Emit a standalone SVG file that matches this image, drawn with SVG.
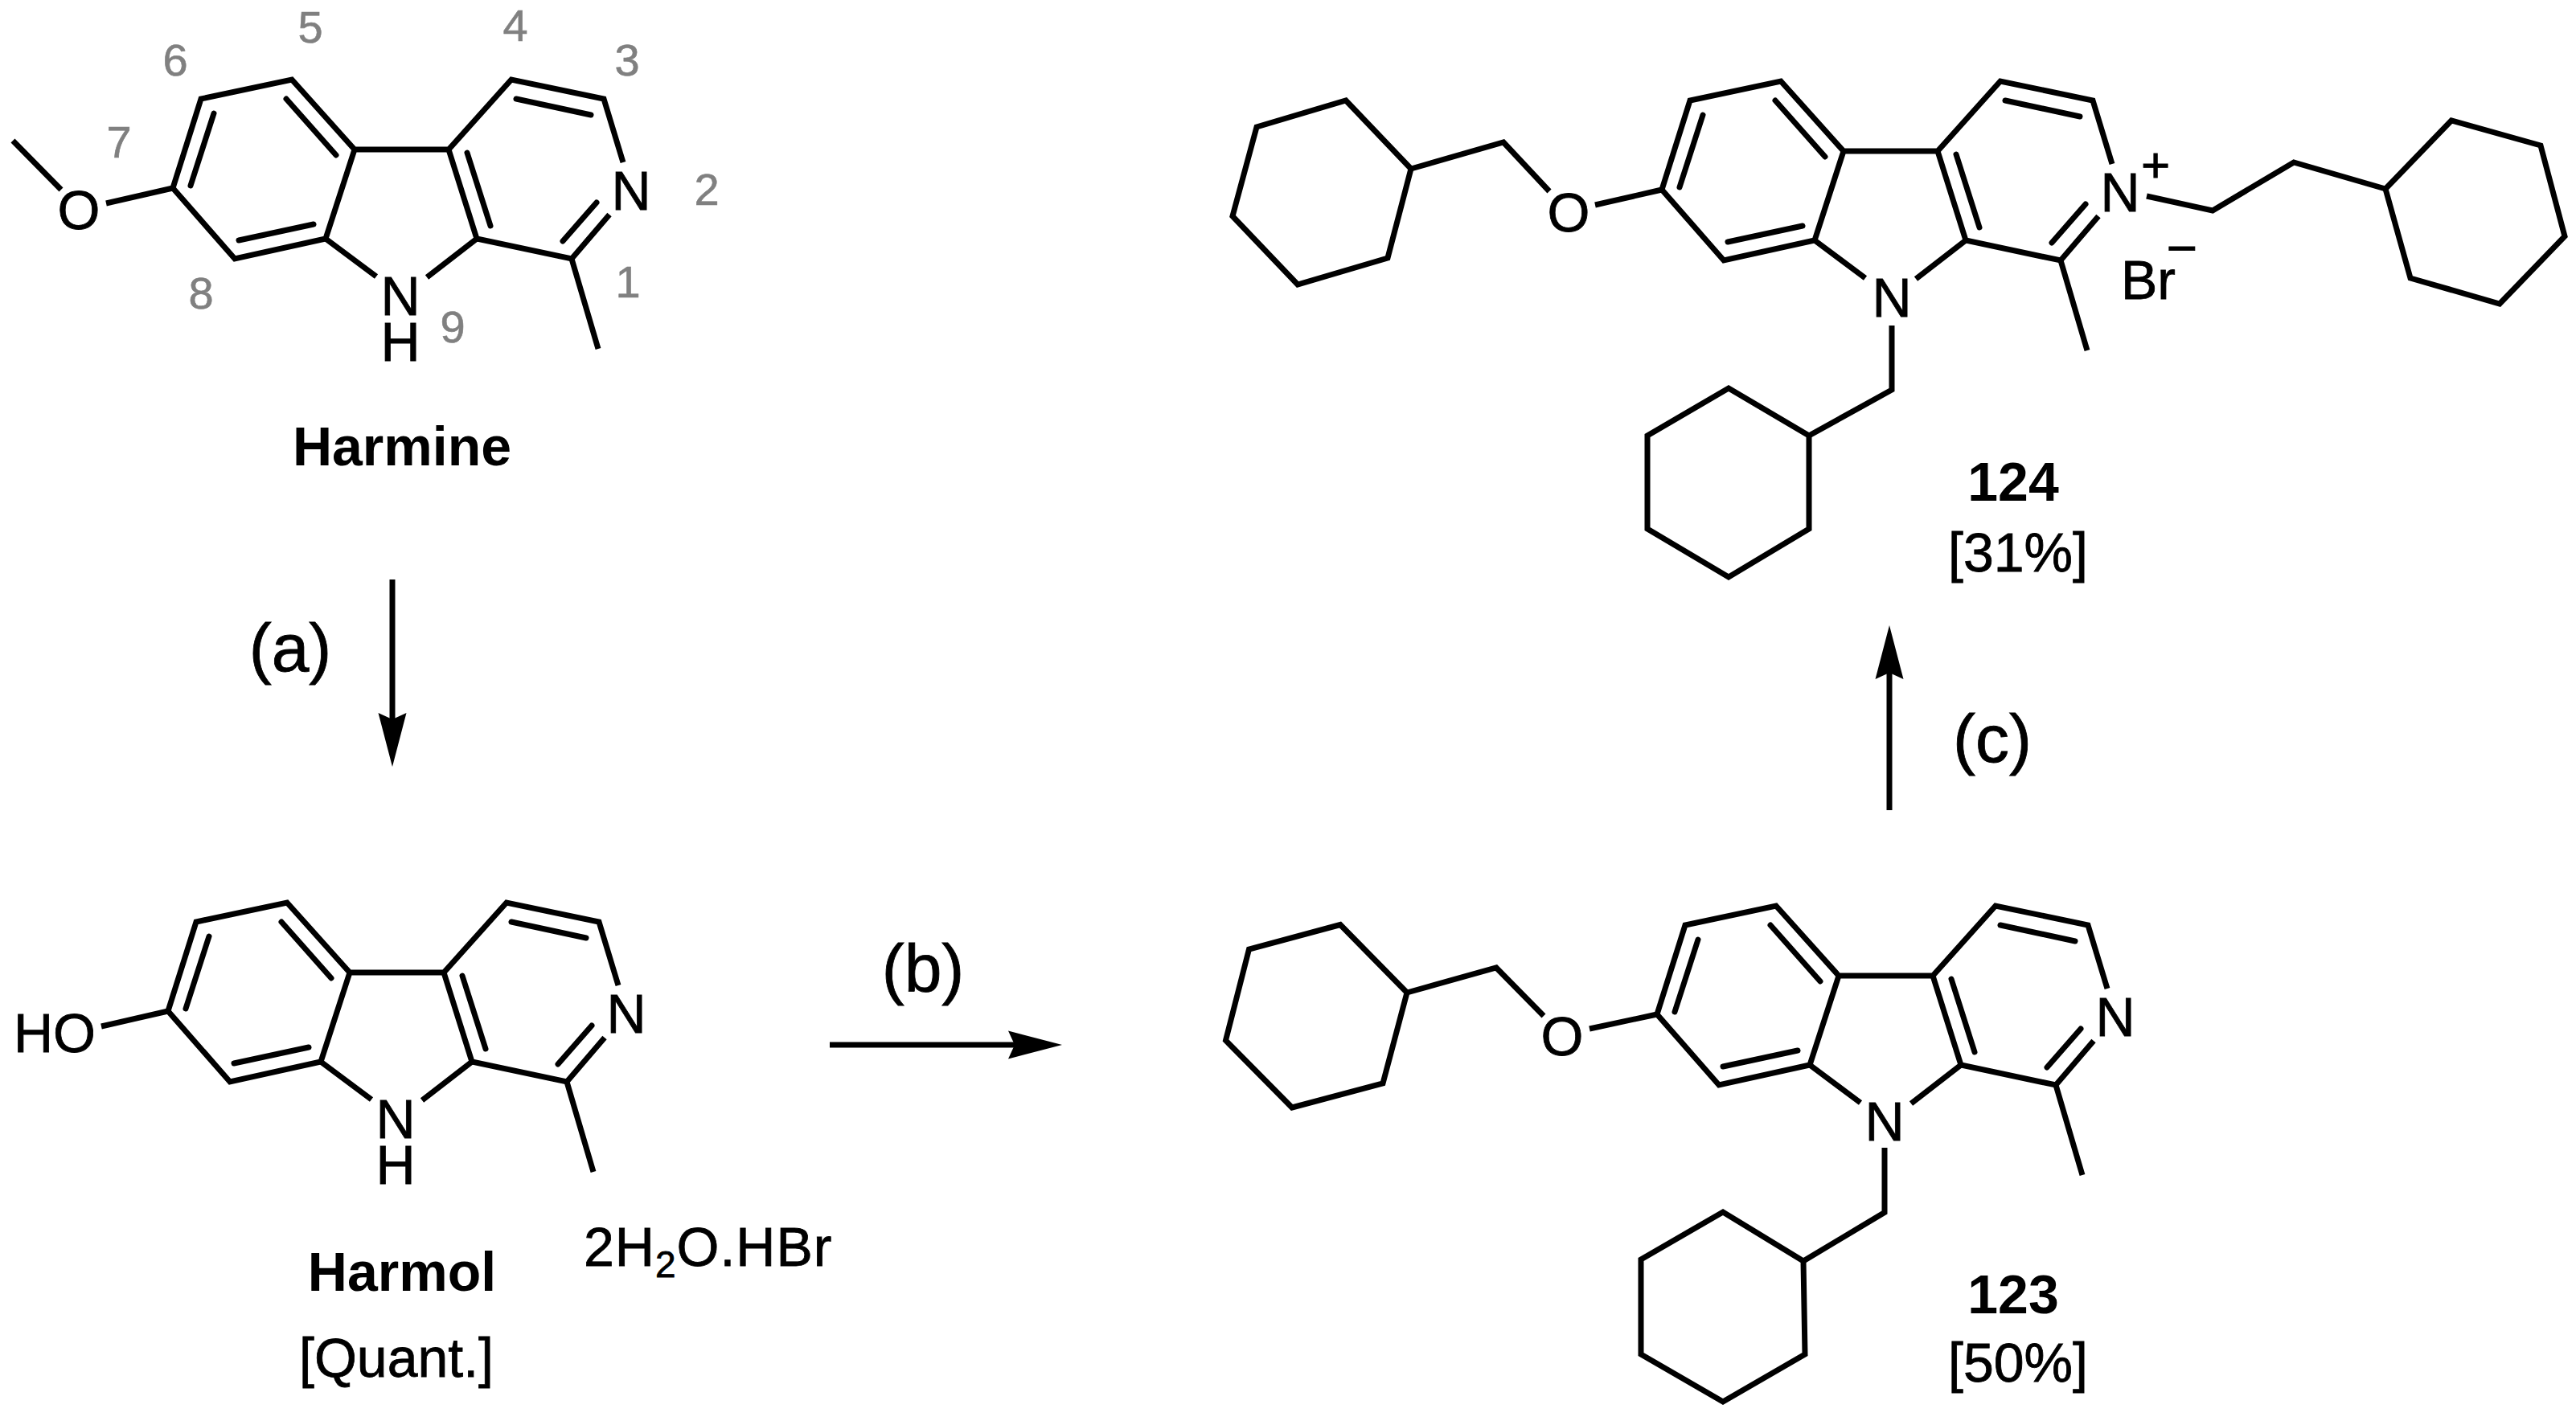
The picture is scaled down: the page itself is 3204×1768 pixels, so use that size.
<svg xmlns="http://www.w3.org/2000/svg" width="3204" height="1768" viewBox="0 0 3204 1768">
<style>
.b{fill:none;stroke:#000;stroke-width:7;stroke-linejoin:miter;stroke-linecap:butt}
.i{fill:none;stroke:#000;stroke-width:7;stroke-linecap:round}
.t{font-family:"Liberation Sans",Arial,sans-serif;font-size:68px;fill:#000;stroke:#000;stroke-width:.8}
.m{text-anchor:middle}
.bd{font-weight:bold;stroke-width:0}
.n{font-family:"Liberation Sans",Arial,sans-serif;font-size:56px;fill:#808080;text-anchor:middle;stroke:#808080;stroke-width:.6}
.r{font-family:"Liberation Sans",Arial,sans-serif;font-size:84px;fill:#000;text-anchor:middle;stroke:#000;stroke-width:.8}
.a{fill:none;stroke:#000;stroke-width:7;marker-end:url(#head)}
</style>
<defs>
<marker id="head" markerUnits="userSpaceOnUse" markerWidth="80" markerHeight="40" viewBox="-10 -20 80 40" refX="0" refY="0" orient="auto" overflow="visible">
<path d="M-8,-17.5 L59,0 L-8,17.5 L0,0 Z" fill="#000"/>
</marker>
<g id="core">
<path class="b" d="M775,202 L751,123 L636,99 L558,186 L441,186 L363,99 L250,123 L215,234 L292,322 L405,297 L441,186"/>
<path class="b" d="M558,186 L593,297 L711,322 L758,267"/>
<path class="b" d="M593,297 L531,345 M405,297 L468,344 M711,322 L744,434"/>
<path class="i" d="M237,231 L266,141 M356,123 L418,193 M297,299 L390,279 M642,123 L735,143 M581,190 L610,281 M700,300 L742,252"/>
</g>
</defs>
<rect width="3204" height="1768" fill="#fff"/>
<g id="harmine">
<use href="#core"/>
<path class="b" d="M215,234 L132,253 M76,236 L16,175"/>
<text class="t m" x="98" y="285">O</text>
<text class="t m" x="785" y="261">N</text>
<text class="t m"><tspan x="498" y="392">N</tspan><tspan x="498" y="449">H</tspan></text>
<text class="t m bd" x="500" y="579">Harmine</text>
<text class="n" x="386" y="53">5</text>
<text class="n" x="641" y="51">4</text>
<text class="n" x="780" y="94">3</text>
<text class="n" x="879" y="255">2</text>
<text class="n" x="781" y="370">1</text>
<text class="n" x="218" y="94">6</text>
<text class="n" x="148" y="196">7</text>
<text class="n" x="250" y="384">8</text>
<text class="n" x="563" y="426">9</text>
</g>
<g id="harmol">
<use href="#core" x="-6" y="1024"/>
<path class="b" d="M209,1258 L126,1277"/>
<text class="t" x="17" y="1309">HO</text>
<text class="t m" x="779" y="1285">N</text>
<text class="t m"><tspan x="492" y="1416">N</tspan><tspan x="492" y="1473">H</tspan></text>
<text class="t m bd" x="500" y="1606">Harmol</text>
<text class="t m" x="493" y="1713">[Quant.]</text>
<text class="t" x="726" y="1575" letter-spacing="1">2H<tspan font-size="46" dy="14">2</tspan><tspan dy="-14">O.HBr</tspan></text>
</g>
<g id="c123">
<use href="#core" x="1846" y="1028"/>
<path class="b" d="M2061,1262 L1977,1280 M1920,1264 L1861,1204 L1750,1235"/>
<path class="b" d="M1750,1235 L1667,1150.5 L1553.5,1181 L1524.5,1294.5 L1607,1378 L1720,1348 Z"/>
<path class="b" d="M2344,1428 L2344,1508.5 L2243,1569"/>
<path class="b" d="M2243,1569 L2143,1508 L2041,1567 L2041,1685 L2143,1744 L2245,1685 Z"/>
<text class="t m" x="1943" y="1313">O</text>
<text class="t m" x="2631" y="1289">N</text>
<text class="t m" x="2344" y="1419">N</text>
<text class="t m bd" x="2504" y="1634">123</text>
<text class="t m" x="2510" y="1719">[50%]</text>
</g>
<g id="c124">
<use href="#core" x="1852" y="2"/>
<path class="b" d="M2067,236 L1984,255 M1927,238 L1870,177 L1755,210"/>
<path class="b" d="M1755,210 L1674,125 L1563,158 L1533,269 L1614,354 L1726,321 Z"/>
<path class="b" d="M2353,405 L2353,485 L2250,542"/>
<path class="b" d="M2250,542 L2150,483 L2049,542 L2049,658 L2150,718 L2250,658 Z"/>
<path class="b" d="M2670,244 L2752,262 L2853,202 L2967,235"/>
<path class="b" d="M2967,235 L3049,150 L3160,181 L3190,294 L3109,378 L2998,346 Z"/>
<text class="t m" x="1951" y="288">O</text>
<text class="t m" x="2637" y="263">N</text>
<text class="t m" x="2353" y="394">N</text>
<text class="t" x="2638" y="372">Br</text>
<text class="t m" x="2681" y="226" style="font-size:62px">+</text>
<text class="t m" x="2714" y="331" style="font-size:66px">−</text>
<text class="t m bd" x="2504" y="623">124</text>
<text class="t m" x="2510" y="711">[31%]</text>
</g>
<g id="connectors">
<line class="a" x1="488" y1="721" x2="488" y2="895"/>
<line class="a" x1="1032" y1="1300" x2="1262" y2="1300"/>
<line class="a" x1="2350" y1="1008" x2="2350" y2="837"/>
<text class="r" x="361" y="835">(a)</text>
<text class="r" x="1148" y="1234">(b)</text>
<text class="r" x="2478" y="948">(c)</text>
</g>
</svg>
